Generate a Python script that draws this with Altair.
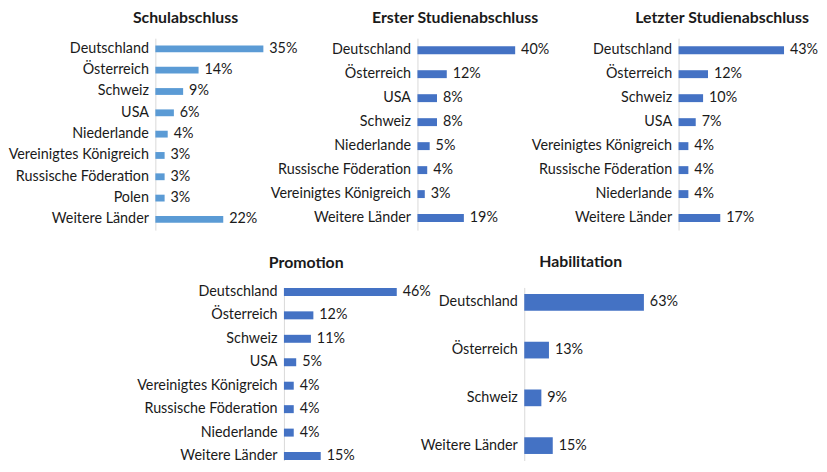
import altair as alt
import pandas as pd

# ---- data ----
schul_countries = ["Deutschland", "Österreich", "Schweiz", "USA", "Niederlande",
                   "Vereinigtes Königreich", "Russische Föderation", "Polen", "Weitere Länder"]
schul_values = [35, 14, 9, 6, 4, 3, 3, 3, 22]

erster_countries = ["Deutschland", "Österreich", "USA", "Schweiz", "Niederlande",
                    "Russische Föderation", "Vereinigtes Königreich", "Weitere Länder"]
erster_values = [40, 12, 8, 8, 5, 4, 3, 19]

letzter_countries = ["Deutschland", "Österreich", "Schweiz", "USA", "Vereinigtes Königreich",
                     "Russische Föderation", "Niederlande", "Weitere Länder"]
letzter_values = [43, 12, 10, 7, 4, 4, 4, 17]

promo_countries = ["Deutschland", "Österreich", "Schweiz", "USA", "Vereinigtes Königreich",
                   "Russische Föderation", "Niederlande", "Weitere Länder"]
promo_values = [46, 12, 11, 5, 4, 4, 4, 15]

habil_countries = ["Deutschland", "Österreich", "Schweiz", "Weitere Länder"]
habil_values = [63, 13, 9, 15]

FONT = "Lato"
TEXT = "#1a1a1a"
LABEL_SIZE = 14.5
TITLE_SIZE = 16


def panel(title, countries, values, color, width, height, xmax,
          pad_inner, pad_outer, title_dx, title_offset, label_dx=6):
    df = pd.DataFrame({"land": countries, "wert": values})
    df["label"] = [f"{v}%" for v in values]
    y = alt.Y("land:N", sort=countries, title=None,
              scale=alt.Scale(paddingInner=pad_inner, paddingOuter=pad_outer),
              axis=alt.Axis(domain=True, domainColor="#d9d9d9", domainWidth=1,
                            ticks=False, labelPadding=7, labelFontSize=LABEL_SIZE,
                            labelFont=FONT, labelColor=TEXT, grid=False,
                            labelLimit=300))
    x = alt.X("wert:Q", title=None, axis=None,
              scale=alt.Scale(domain=[0, xmax], nice=False, zero=True))
    base = alt.Chart(df)
    bars = base.mark_bar(color=color).encode(x=x, y=y)
    labels = base.mark_text(align="left", baseline="middle", dx=label_dx,
                            fontSize=LABEL_SIZE, font=FONT, color=TEXT).encode(
        x=x, y=y, text="label:N")
    return (bars + labels).properties(
        width=width, height=height,
        title=alt.TitleParams(text=title, anchor="middle", frame="group",
                              dx=title_dx, offset=title_offset,
                              baseline="alphabetic",
                              fontSize=TITLE_SIZE, font=FONT, fontWeight="bold",
                              color=TEXT))


LIGHT = "#5b9bd5"
DARK = "#4472c4"

top_h = 194
p1 = panel("Schulabschluss", schul_countries, schul_values, LIGHT,
           265, top_h, 265 / 3.12, 0.68, 0.34, -102, -1)
p2 = panel("Erster Studienabschluss", erster_countries, erster_values, DARK,
           264, top_h, 264 / 2.47, 0.67, 0.335, -94, -1)
p3 = panel("Letzter Studienabschluss", letzter_countries, letzter_values, DARK,
           128, top_h, 128 / 2.48, 0.67, 0.335, -20, -1)

bot_h = 175
p4 = panel("Promotion", promo_countries, promo_values, DARK,
           243, bot_h, 243 / 2.48, 0.66, 0.02, -99, 0)
p5 = panel("Habilitation", habil_countries, habil_values, DARK,
           160, bot_h, 160 / 1.92, 0.65, 0.137, -23, 5)

spacer = alt.Chart(pd.DataFrame({"a": [0]})).mark_text(text="").encode(
    x=alt.value(1), y=alt.value(1)).properties(width=130, height=bot_h)

top = alt.hconcat(p1, p2, p3, spacing=0, bounds="flush")
bottom = alt.hconcat(spacer, p4, p5, spacing=0, bounds="flush")

chart = alt.vconcat(top, bottom, spacing=24).properties(
    padding={"left": 0, "top": 0, "right": 0, "bottom": 0}
).configure(background="white").configure_view(stroke="transparent", strokeWidth=0)

chart.save("out.html", embed_options={"renderer": "svg", "actions": False})
